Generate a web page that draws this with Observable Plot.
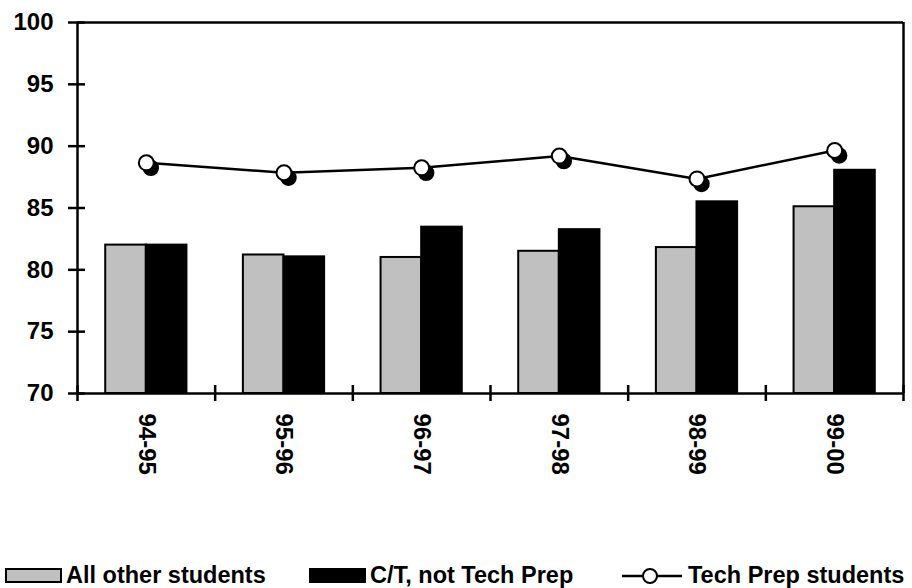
<!DOCTYPE html>
<html>
<head>
<meta charset="utf-8">
<script src="https://cdn.jsdelivr.net/npm/d3@7"></script>
<script src="https://cdn.jsdelivr.net/npm/@observablehq/plot@0.6"></script>
<style>
  html, body { margin: 0; padding: 0; background: #fff; }
  #wrap { position: relative; width: 912px; height: 588px; font-family: "Liberation Sans", Arial, sans-serif; }
  #chart svg { display: block; }
  #legend { position: relative; top: 4px; height: 33px; font-weight: bold; font-size: 23.5px; color: #000; }
  .item { position: absolute; top: 0; height: 33px; display: flex; align-items: center; white-space: nowrap; }
  .sw { width: 57px; height: 15px; box-sizing: border-box; border: 2px solid #000; margin-right: 4px; }
</style>
</head>
<body>
<div id="wrap"><div id="chart"></div><div id="legend"></div></div>
<script>
const years = ["94-95", "95-96", "96-97", "97-98", "98-99", "99-00"];
const allOther = [82.0, 81.2, 81.0, 81.5, 81.8, 85.1];
const ctNotTechPrep = [82.0, 81.05, 83.45, 83.25, 85.5, 88.05];
const techPrep = [88.65, 87.85, 88.25, 89.2, 87.35, 89.65];
const yTicks = [70, 75, 80, 85, 90, 95, 100];
const seriesNames = ["All other students", "C/T, not Tech Prep", "Tech Prep students"];

const idx = years.map((d, i) => i);
const W = 0.295;
const lw = 2.5;

const chart = Plot.plot({
  width: 912,
  height: 555,
  marginLeft: 77,
  marginRight: 9,
  marginTop: 22,
  marginBottom: 162,
  style: { fontFamily: "'Liberation Sans', Arial, sans-serif", fontSize: "24px", fontWeight: "bold", color: "#000", background: "#fff" },
  x: { type: "linear", domain: [0, years.length], axis: null },
  y: { domain: [70, 100], axis: null },
  marks: [
    Plot.rect(idx, { x1: i => i + 0.5 - W, x2: i => i + 0.5, y1: 70, y2: i => allOther[i], fill: "#c0c0c0", stroke: "#000", strokeWidth: 2 }),
    Plot.rect(idx, { x1: i => i + 0.5, x2: i => i + 0.5 + W, y1: 70, y2: i => ctNotTechPrep[i], fill: "#000", stroke: "#000", strokeWidth: 2 }),
    Plot.ruleY([70, 100], { x1: 0, x2: years.length, stroke: "#000", strokeWidth: lw }),
    Plot.ruleX([0, years.length], { y1: 70, y2: 100, stroke: "#000", strokeWidth: lw }),
    Plot.axisY({ ticks: yTicks, tickSize: 17, dx: 8, tickPadding: 15, strokeWidth: lw, tickFormat: d => String(d), fontSize: 24, fontWeight: "bold" }),
    Plot.axisX({ ticks: d3.range(years.length + 1), tickSize: 16, dy: -8, strokeWidth: lw, tickFormat: () => "" }),
    Plot.text(idx, { x: i => i + 0.5, y: 70, text: i => years[i], rotate: 90, textAnchor: "start", dy: 20, fontSize: 24, fontWeight: "bold", fill: "#000" }),
    Plot.line(idx, { x: i => i + 0.5, y: i => techPrep[i], stroke: "#000", strokeWidth: lw }),
    Plot.dot(idx, { x: i => i + 0.5, y: i => techPrep[i], r: 7.5, fill: "#000", stroke: "#000", dx: 4.5, dy: 5 }),
    Plot.dot(idx, { x: i => i + 0.5, y: i => techPrep[i], r: 7.5, fill: "#fff", stroke: "#000", strokeWidth: 2 })
  ]
});
document.getElementById("chart").appendChild(chart);

const legend = document.getElementById("legend");
legend.innerHTML = `
  <div class="item" style="left:5px"><span class="sw" style="background:#c0c0c0"></span><span>${seriesNames[0]}</span></div>
  <div class="item" style="left:309px"><span class="sw" style="background:#000"></span><span>${seriesNames[1]}</span></div>
  <div class="item" style="left:620px">
    <svg width="64" height="20" style="margin-right:4px"><line x1="2" y1="10" x2="62" y2="10" stroke="#000" stroke-width="2.5"/><circle cx="30" cy="10" r="7" fill="#fff" stroke="#000" stroke-width="2"/></svg>
    <span>${seriesNames[2]}</span></div>`;
</script>
</body>
</html>
